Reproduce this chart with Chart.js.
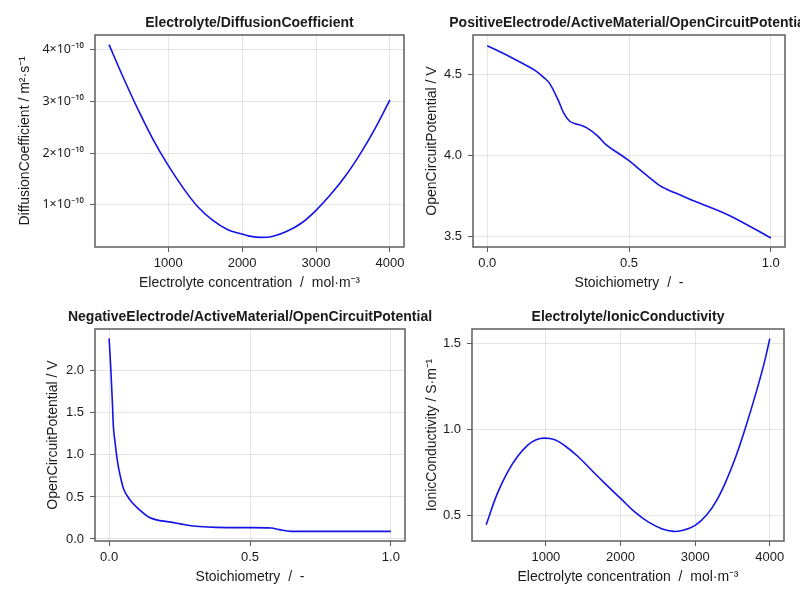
<!DOCTYPE html>
<html>
<head>
<meta charset="utf-8">
<script src="https://cdn.jsdelivr.net/npm/chart.js@4"></script>
<style>
  body { margin: 0; background: #fff; }
  #wrap { position: relative; width: 800px; height: 600px; }
  canvas { position: absolute; left: 0; top: 0; }
</style>
</head>
<body>
<div id="wrap">
  <canvas id="c1" width="800" height="600"></canvas>
  <canvas id="c2" width="800" height="600"></canvas>
  <canvas id="c3" width="800" height="600"></canvas>
  <canvas id="c4" width="800" height="600"></canvas>
</div>
<script>
// Electrolyte/DiffusionCoefficient
const diffConc = [200, 400, 600, 800, 1000, 1200, 1400, 1600, 1800, 2000, 2100, 2260, 2420, 2600, 2800, 3000, 3200, 3400, 3600, 3800, 4000];
const diffCoef = [4.10e-10, 3.44e-10, 2.82e-10, 2.25e-10, 1.76e-10, 1.33e-10, 0.96e-10, 0.70e-10, 0.52e-10, 0.43e-10,
                  0.39e-10, 0.367e-10, 0.39e-10, 0.48e-10, 0.64e-10, 0.89e-10, 1.20e-10, 1.56e-10, 1.99e-10, 2.48e-10, 3.03e-10];

// PositiveElectrode/ActiveMaterial/OpenCircuitPotential
const posStoich = [0, 0.08, 0.14, 0.17, 0.20, 0.22, 0.25, 0.27, 0.29, 0.31, 0.33, 0.35, 0.39, 0.42, 0.46, 0.50, 0.54, 0.58, 0.61, 0.66, 0.73, 0.85, 1.0];
const posOcp = [4.677, 4.609, 4.553, 4.523, 4.48, 4.444, 4.342, 4.26, 4.212, 4.195, 4.186, 4.171, 4.119, 4.064, 4.016, 3.967, 3.909, 3.852, 3.811, 3.770, 3.718, 3.632, 3.49];

// NegativeElectrode/ActiveMaterial/OpenCircuitPotential
const negStoich = [0, 0.006, 0.012, 0.015, 0.021, 0.03, 0.039, 0.051, 0.063, 0.08, 0.11, 0.14, 0.165, 0.22, 0.27, 0.32, 0.38, 0.5, 0.575, 0.605, 0.645, 0.8, 1.0];
const negOcp = [2.385, 2.03, 1.60, 1.35, 1.155, 0.917, 0.758, 0.599, 0.52, 0.44, 0.341, 0.262, 0.23, 0.20, 0.17, 0.148, 0.138, 0.135, 0.131, 0.111, 0.091, 0.091, 0.091];

// Electrolyte/IonicConductivity
const condConc = [200, 350, 490, 620, 760, 870, 980, 1120, 1250, 1430, 1610, 1790, 2000, 2190, 2370, 2550, 2710, 2840, 3000, 3150, 3290, 3420, 3550, 3680, 3810, 3920, 4000];
const condValue = [0.447, 0.629, 0.756, 0.844, 0.912, 0.942, 0.951, 0.942, 0.908, 0.844, 0.765, 0.687, 0.600, 0.521, 0.463, 0.424, 0.408, 0.414, 0.443, 0.502, 0.59, 0.707, 0.85, 1.02, 1.207, 1.38, 1.53];

// tick positions
const concTicks = [1000, 2000, 3000, 4000];
const stoichTicks = [0, 0.5, 1.0];
const diffTicks = [1e-10, 2e-10, 3e-10, 4e-10];
const posTicks = [3.5, 4.0, 4.5];
const negTicks = [0, 0.5, 1.0, 1.5, 2.0];
const condTicks = [0.5, 1.0, 1.5];

const FONT = '"Liberation Sans", "Noto Sans", Arial, sans-serif';
const TEXT = '#1a1a1a';

// frame round the plot area + title above it (drawn without squeezing, like the original)
const framePlugin = {
  id: 'frame',
  afterDraw(chart, args, opts) {
    const a = chart.chartArea, ctx = chart.ctx;
    ctx.save();
    ctx.strokeStyle = '#5e5e5e';
    ctx.lineWidth = 1.5;
    ctx.strokeRect(a.left, a.top, a.right - a.left, a.bottom - a.top);
    ctx.font = 'bold 14px ' + FONT;
    ctx.fillStyle = TEXT;
    ctx.textAlign = 'center';
    ctx.textBaseline = 'middle';
    ctx.fillText(opts.title, (a.left + a.right) / 2, a.top - 12);
    ctx.restore();
  }
};

function makePanel(id, xs, ys, p) {
  const pts = xs.map((x, i) => ({ x: x, y: ys[i] }));
  const yBox = p.left - (p.titleX - 8.4);
  const axis = (min, max, ticks, fmt, label) => ({
    type: 'linear', min: min, max: max,
    afterBuildTicks: s => { s.ticks = ticks.map(v => ({ value: v })); },
    ticks: { padding: 4, color: TEXT, font: { family: FONT, size: 13 }, callback: fmt, maxRotation: 0, autoSkip: false },
    grid: { color: 'rgba(0,0,0,0.10)', tickColor: '#5e5e5e', tickLength: 5, lineWidth: 1 },
    border: { display: false },
    title: { display: true, text: label, color: TEXT, font: { family: FONT, size: 14 }, padding: 0 }
  });
  const xAxis = axis(p.xmin, p.xmax, p.xticks, p.xfmt, p.xlabel);
  xAxis.afterFit = s => { s.height = 45; };
  const yAxis = axis(p.ymin, p.ymax, p.yticks, p.yfmt, p.ylabel);
  yAxis.ticks.padding = 6;
  if (p.yTickFont) yAxis.ticks.font = p.yTickFont;
  yAxis.afterFit = s => { s.width = yBox; };

  const ds = {
    data: pts,
    borderColor: '#1414e6',
    borderWidth: 1.6,
    pointRadius: 0,
    fill: false
  };
  if (p.smooth === 'monotone') ds.cubicInterpolationMode = 'monotone';
  else ds.tension = 0.4;

  return new Chart(document.getElementById(id), {
    type: 'line',
    data: { datasets: [ds] },
    options: {
      responsive: false,
      animation: false,
      events: [],
      layout: { padding: { left: p.titleX - 8.4, right: 800 - p.right, top: p.top, bottom: 600 - p.bottom - 45 } },
      plugins: { legend: { display: false }, tooltip: { enabled: false }, frame: { title: p.title } },
      scales: { x: xAxis, y: yAxis }
    },
    plugins: [framePlugin]
  });
}

const one = v => v.toFixed(1);
const plain = v => String(v);

makePanel('c1', diffConc, diffCoef, {
  title: 'Electrolyte/DiffusionCoefficient',
  left: 95, right: 404, top: 35, bottom: 247, titleX: 25,
  xmin: 10, xmax: 4190, xticks: concTicks, xfmt: plain, xlabel: 'Electrolyte concentration  /  mol·m⁻³',
  ymin: 0.18e-10, ymax: 4.287e-10, yticks: diffTicks, yfmt: v => Math.round(v * 1e10) + '×10⁻¹⁰', ylabel: 'DiffusionCoefficient / m²·s⁻¹',
  yTickFont: { family: '"Noto Sans", sans-serif', size: 12.5 }
});

makePanel('c2', posStoich, posOcp, {
  title: 'PositiveElectrode/ActiveMaterial/OpenCircuitPotential', smooth: 'monotone',
  left: 473, right: 785, top: 35, bottom: 247, titleX: 432,
  xmin: -0.05, xmax: 1.05, xticks: stoichTicks, xfmt: one, xlabel: 'Stoichiometry  /  -',
  ymin: 3.434, ymax: 4.743, yticks: posTicks, yfmt: one, ylabel: 'OpenCircuitPotential / V'
});

makePanel('c3', negStoich, negOcp, {
  title: 'NegativeElectrode/ActiveMaterial/OpenCircuitPotential', smooth: 'monotone',
  left: 95, right: 405, top: 329, bottom: 541, titleX: 53,
  xmin: -0.05, xmax: 1.05, xticks: stoichTicks, xfmt: one, xlabel: 'Stoichiometry  /  -',
  ymin: -0.024, ymax: 2.497, yticks: negTicks, yfmt: one, ylabel: 'OpenCircuitPotential / V'
});

makePanel('c4', condConc, condValue, {
  title: 'Electrolyte/IonicConductivity',
  left: 472, right: 784, top: 329, bottom: 541, titleX: 432,
  xmin: 10, xmax: 4190, xticks: concTicks, xfmt: plain, xlabel: 'Electrolyte concentration  /  mol·m⁻³',
  ymin: 0.352, ymax: 1.586, yticks: condTicks, yfmt: one, ylabel: 'IonicConductivity / S·m⁻¹'
});
</script>
</body>
</html>
